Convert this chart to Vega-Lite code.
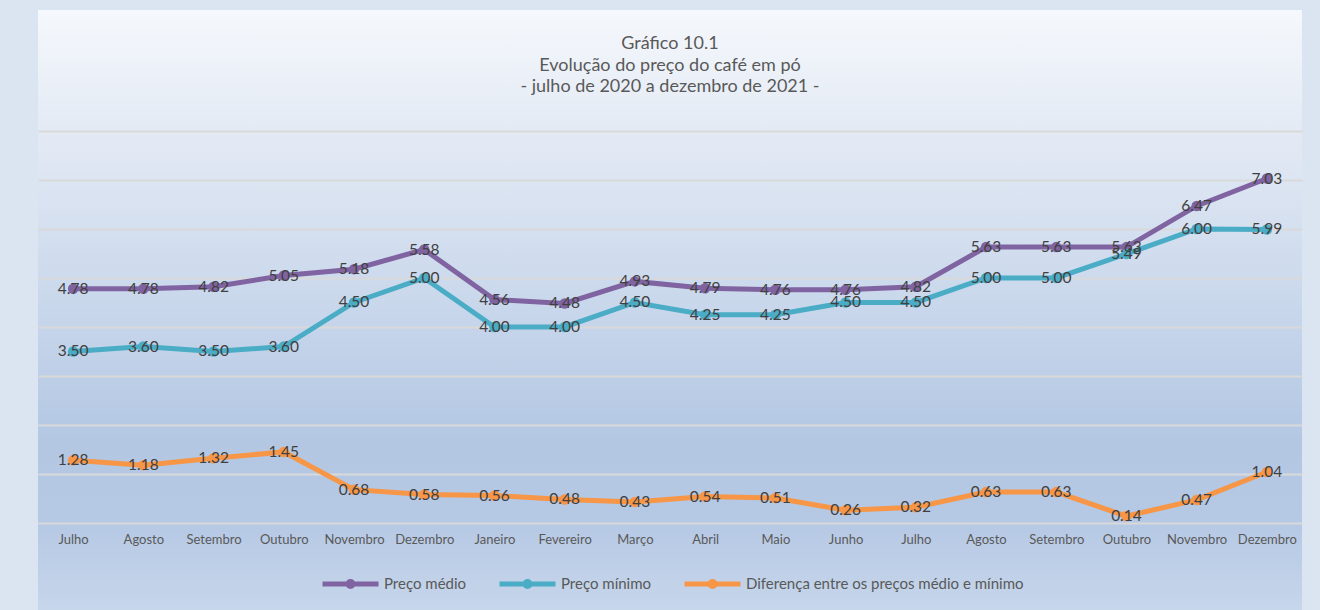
{
  "$schema": "https://vega.github.io/schema/vega-lite/v6.json",
  "width": 1264,
  "height": 600,
  "autosize": {"type": "none"},
  "padding": {"left": 38, "top": 10, "right": 18, "bottom": 0},
  "background": "#dbe4f1",
  "title": {
    "text": ["Gráfico 10.1", "Evolução do preço do café em pó", "- julho de 2020 a dezembro de 2021 -"],
    "anchor": "middle",
    "frame": "group",
    "offset": -86,
    "font": "Lato",
    "fontSize": 18,
    "fontWeight": "normal",
    "color": "#595959",
    "lineHeight": 21.5
  },
  "config": {
    "view": {
      "stroke": null,
      "fill": {
        "gradient": "linear",
        "x1": 0, "y1": 0, "x2": 0, "y2": 1,
        "stops": [
          {"offset": 0, "color": "#f5f8fc"},
          {"offset": 0.22, "color": "#e2e9f4"},
          {"offset": 0.48, "color": "#cad8ec"},
          {"offset": 0.72, "color": "#b3c7e3"},
          {"offset": 0.85, "color": "#b5c8e4"},
          {"offset": 1, "color": "#c6d6eb"}
        ]
      }
    }
  },
  "data": {
    "values": [
      {"mes": "Julho 2020", "serie": "Preço médio", "valor": 4.78},
      {"mes": "Agosto 2020", "serie": "Preço médio", "valor": 4.78},
      {"mes": "Setembro 2020", "serie": "Preço médio", "valor": 4.82},
      {"mes": "Outubro 2020", "serie": "Preço médio", "valor": 5.05},
      {"mes": "Novembro 2020", "serie": "Preço médio", "valor": 5.18},
      {"mes": "Dezembro 2020", "serie": "Preço médio", "valor": 5.58},
      {"mes": "Janeiro 2021", "serie": "Preço médio", "valor": 4.56},
      {"mes": "Fevereiro 2021", "serie": "Preço médio", "valor": 4.48},
      {"mes": "Março 2021", "serie": "Preço médio", "valor": 4.93},
      {"mes": "Abril 2021", "serie": "Preço médio", "valor": 4.79},
      {"mes": "Maio 2021", "serie": "Preço médio", "valor": 4.76},
      {"mes": "Junho 2021", "serie": "Preço médio", "valor": 4.76},
      {"mes": "Julho 2021", "serie": "Preço médio", "valor": 4.82},
      {"mes": "Agosto 2021", "serie": "Preço médio", "valor": 5.63},
      {"mes": "Setembro 2021", "serie": "Preço médio", "valor": 5.63},
      {"mes": "Outubro 2021", "serie": "Preço médio", "valor": 5.63},
      {"mes": "Novembro 2021", "serie": "Preço médio", "valor": 6.47},
      {"mes": "Dezembro 2021", "serie": "Preço médio", "valor": 7.03},
      {"mes": "Julho 2020", "serie": "Preço mínimo", "valor": 3.50},
      {"mes": "Agosto 2020", "serie": "Preço mínimo", "valor": 3.60},
      {"mes": "Setembro 2020", "serie": "Preço mínimo", "valor": 3.50},
      {"mes": "Outubro 2020", "serie": "Preço mínimo", "valor": 3.60},
      {"mes": "Novembro 2020", "serie": "Preço mínimo", "valor": 4.50},
      {"mes": "Dezembro 2020", "serie": "Preço mínimo", "valor": 5.00},
      {"mes": "Janeiro 2021", "serie": "Preço mínimo", "valor": 4.00},
      {"mes": "Fevereiro 2021", "serie": "Preço mínimo", "valor": 4.00},
      {"mes": "Março 2021", "serie": "Preço mínimo", "valor": 4.50},
      {"mes": "Abril 2021", "serie": "Preço mínimo", "valor": 4.25},
      {"mes": "Maio 2021", "serie": "Preço mínimo", "valor": 4.25},
      {"mes": "Junho 2021", "serie": "Preço mínimo", "valor": 4.50},
      {"mes": "Julho 2021", "serie": "Preço mínimo", "valor": 4.50},
      {"mes": "Agosto 2021", "serie": "Preço mínimo", "valor": 5.00},
      {"mes": "Setembro 2021", "serie": "Preço mínimo", "valor": 5.00},
      {"mes": "Outubro 2021", "serie": "Preço mínimo", "valor": 5.49},
      {"mes": "Novembro 2021", "serie": "Preço mínimo", "valor": 6.00},
      {"mes": "Dezembro 2021", "serie": "Preço mínimo", "valor": 5.99},
      {"mes": "Julho 2020", "serie": "Diferença entre os preços médio e mínimo", "valor": 1.28},
      {"mes": "Agosto 2020", "serie": "Diferença entre os preços médio e mínimo", "valor": 1.18},
      {"mes": "Setembro 2020", "serie": "Diferença entre os preços médio e mínimo", "valor": 1.32},
      {"mes": "Outubro 2020", "serie": "Diferença entre os preços médio e mínimo", "valor": 1.45},
      {"mes": "Novembro 2020", "serie": "Diferença entre os preços médio e mínimo", "valor": 0.68},
      {"mes": "Dezembro 2020", "serie": "Diferença entre os preços médio e mínimo", "valor": 0.58},
      {"mes": "Janeiro 2021", "serie": "Diferença entre os preços médio e mínimo", "valor": 0.56},
      {"mes": "Fevereiro 2021", "serie": "Diferença entre os preços médio e mínimo", "valor": 0.48},
      {"mes": "Março 2021", "serie": "Diferença entre os preços médio e mínimo", "valor": 0.43},
      {"mes": "Abril 2021", "serie": "Diferença entre os preços médio e mínimo", "valor": 0.54},
      {"mes": "Maio 2021", "serie": "Diferença entre os preços médio e mínimo", "valor": 0.51},
      {"mes": "Junho 2021", "serie": "Diferença entre os preços médio e mínimo", "valor": 0.26},
      {"mes": "Julho 2021", "serie": "Diferença entre os preços médio e mínimo", "valor": 0.32},
      {"mes": "Agosto 2021", "serie": "Diferença entre os preços médio e mínimo", "valor": 0.63},
      {"mes": "Setembro 2021", "serie": "Diferença entre os preços médio e mínimo", "valor": 0.63},
      {"mes": "Outubro 2021", "serie": "Diferença entre os preços médio e mínimo", "valor": 0.14},
      {"mes": "Novembro 2021", "serie": "Diferença entre os preços médio e mínimo", "valor": 0.47},
      {"mes": "Dezembro 2021", "serie": "Diferença entre os preços médio e mínimo", "valor": 1.04}
    ]
  },
  "encoding": {
    "x": {
      "field": "mes",
      "type": "ordinal",
      "sort": null,
      "scale": {"type": "point", "padding": 0.5},
      "axis": {
        "title": null,
        "labelExpr": "split(datum.value, ' ')[0]",
        "labelAngle": 0,
        "ticks": false,
        "domain": false,
        "grid": false,
        "offset": -87,
        "labelPadding": 10,
        "labelFont": "Lato",
        "labelFontSize": 13,
        "labelColor": "#595959"
      }
    },
    "y": {
      "field": "valor",
      "type": "quantitative",
      "scale": {"domain": [-1.776, 10.469], "nice": false, "zero": false},
      "axis": {
        "title": null,
        "values": [0, 1, 2, 3, 4, 5, 6, 7, 8],
        "labels": false,
        "ticks": false,
        "domain": false,
        "grid": true,
        "gridColor": "#d9d9d9",
        "gridWidth": 2
      }
    },
    "color": {
      "field": "serie",
      "type": "nominal",
      "sort": null,
      "scale": {
        "domain": ["Preço médio", "Preço mínimo", "Diferença entre os preços médio e mínimo"],
        "range": ["#8064a2", "#4bacc6", "#f79646"]
      },
      "legend": {
        "orient": "none",
        "legendX": 282,
        "legendY": 543,
        "direction": "horizontal",
        "title": null,
        "symbolType": "M-1,0L1,0M-0.09,0a0.09,0.09 0 1,0 0.18,0a0.09,0.09 0 1,0 -0.18,0",
        "symbolSize": 3136,
        "symbolStrokeWidth": 5,
        "labelFont": "Lato",
        "labelFontSize": 15,
        "labelColor": "#595959",
        "labelOffset": 3,
        "labelLimit": 0,
        "columnPadding": 22
      }
    }
  },
  "layer": [
    {"mark": {"type": "line", "strokeWidth": 5}},
    {"mark": {"type": "point", "filled": true, "size": 110, "opacity": 1}},
    {
      "mark": {"type": "text", "font": "Lato", "fontSize": 15.5, "baseline": "middle", "align": "center"},
      "encoding": {
        "text": {"field": "valor", "type": "quantitative", "format": ".2f"},
        "color": {"value": "#404040"}
      }
    }
  ]
}
